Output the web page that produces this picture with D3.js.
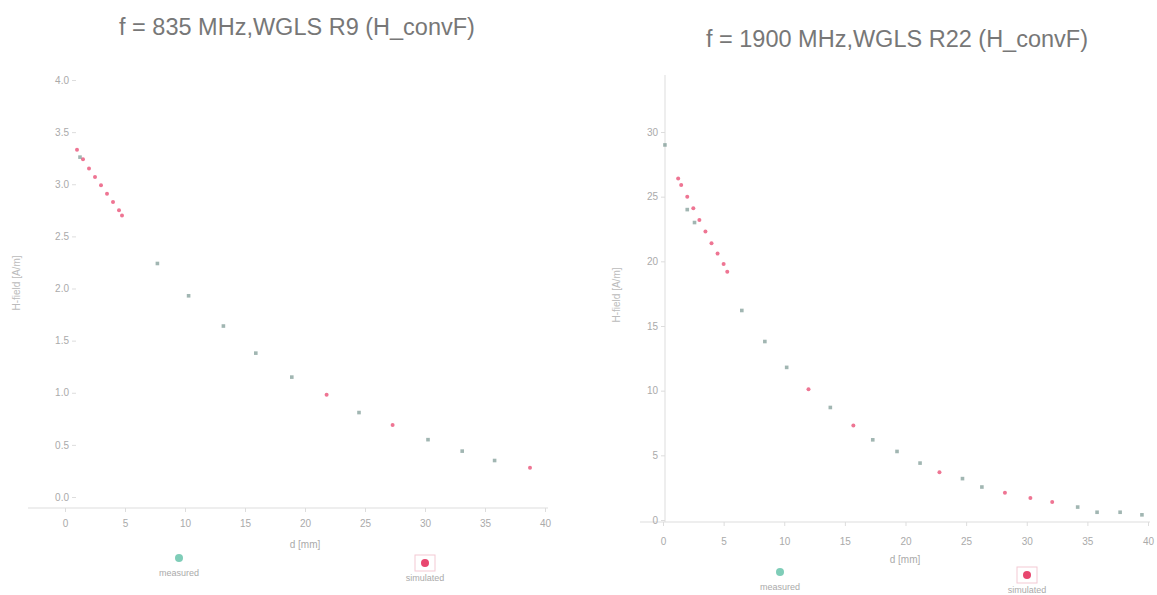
<!DOCTYPE html>
<html>
<head>
<meta charset="utf-8">
<script src="https://cdn.jsdelivr.net/npm/d3@7"></script>
<style>
  body { margin: 0; background: #fff; }
  svg { display: block; font-family: "Liberation Sans", Arial, sans-serif; }
  .tick text { fill: #aaa; font-size: 10px; }
  .tick line { stroke: #ddd; }
  .domain { stroke: #ddd; }
</style>
</head>
<body>
<svg id="chart" width="1157" height="595"></svg>
<script>
// x ticks, d in mm
const xTicks = [0, 5, 10, 15, 20, 25, 30, 35, 40];

// f = 835 MHz
const leftYTicks = [0, 0.5, 1, 1.5, 2, 2.5, 3, 3.5, 4];
const leftMeasX = [1.25, 7.7, 10.3, 13.2, 15.9, 18.9, 24.5, 30.25, 33.1, 35.8];
const leftMeasY = [3.26, 2.24, 1.93, 1.64, 1.38, 1.15, 0.81, 0.55, 0.44, 0.35];
const leftSimX = [1.0, 1.5, 2.0, 2.5, 3.0, 3.5, 4.0, 4.5, 4.75, 21.8, 27.3, 38.75];
const leftSimY = [3.33, 3.24, 3.15, 3.07, 2.99, 2.91, 2.83, 2.75, 2.70, 0.98, 0.69, 0.28];

// f = 1900 MHz
const rightYTicks = [0, 5, 10, 15, 20, 25, 30];
const rightMeasX = [0.16, 2.0, 2.6, 6.5, 8.4, 10.2, 13.8, 17.3, 19.3, 21.2, 24.7, 26.3, 34.2, 35.8, 37.7, 39.5];
const rightMeasY = [29.0, 24.0, 23.0, 16.2, 13.8, 11.8, 8.7, 6.2, 5.3, 4.4, 3.2, 2.55, 1.0, 0.6, 0.6, 0.4];
const rightSimX = [1.25, 1.5, 2.0, 2.5, 3.0, 3.5, 4.0, 4.5, 5.0, 5.3, 12.0, 15.7, 22.8, 28.2, 30.3, 32.1];
const rightSimY = [26.4, 25.9, 25.0, 24.1, 23.2, 22.3, 21.4, 20.6, 19.8, 19.2, 10.1, 7.3, 3.7, 2.1, 1.7, 1.4];

const seriesNames = ["measured", "simulated"];
const titles = ["f = 835 MHz,WGLS R9 (H_convF)", "f = 1900 MHz,WGLS R22 (H_convF)"];

const svg = d3.select("#chart");
const measColor = "#6f8f89", simColor = "#e8476f";

function drawPanel(p) {
    var x = d3.scaleLinear().domain([0, 40]).range(p.xRange);
    var y = d3.scaleLinear().domain([0, p.yMax]).range(p.yRange);
    var g = svg.append("g");

    g.append("text")
        .attr("x", p.titleX).attr("y", p.titleY)
        .attr("text-anchor", "middle")
        .attr("fill", "#777").style("font-size", "23.5px")
        .text(p.title);

    // x axis
    var xa = g.append("g")
        .attr("transform", "translate(0," + p.xAxisY + ")")
        .call(d3.axisBottom(x).tickValues(xTicks).tickSize(4).tickPadding(p.xPad));
    xa.select(".domain").attr("d", "M" + p.xLine[0] + ",0H" + p.xLine[1]);

    // y axis
    var ya = g.append("g")
        .attr("transform", "translate(" + p.yAxisX + ",0)")
        .call(d3.axisLeft(y).tickValues(p.yTicks).tickSize(4).tickFormat(p.fmt));
    ya.select(".domain")
        .attr("d", "M0," + p.yLine[0] + "V" + p.yLine[1])
        .style("stroke", p.showY ? "#ddd" : "none");

    g.append("text")
        .attr("x", p.xLabel[0]).attr("y", p.xLabel[1])
        .attr("text-anchor", "middle").attr("fill", "#aaa").style("font-size", "10px")
        .text("d [mm]");
    g.append("text")
        .attr("transform", "translate(" + p.yLabel[0] + "," + p.yLabel[1] + ") rotate(-90)")
        .attr("text-anchor", "middle").attr("fill", "#bbb").style("font-size", "10px")
        .text("H-field [A/m]");

    // simulated
    var sim = p.simX.map((v, i) => [v, p.simY[i]]);
    g.selectAll(".sim").data(sim).enter().append("circle")
        .attr("cx", d => x(d[0])).attr("cy", d => y(d[1]))
        .attr("r", 2).attr("fill", simColor).attr("opacity", 0.75);

    // measured
    var meas = p.measX.map((v, i) => [v, p.measY[i]]);
    g.selectAll(".meas").data(meas).enter().append("rect")
        .attr("x", d => x(d[0]) - 1.8).attr("y", d => y(d[1]) - 1.8)
        .attr("width", 3.6).attr("height", 3.6)
        .attr("fill", measColor).attr("opacity", 0.65);

    // legend
    g.append("circle").attr("cx", p.leg[0][0]).attr("cy", p.leg[0][1]).attr("r", 4)
        .attr("fill", "#5fc1a6").attr("opacity", 0.8);
    g.append("rect").attr("x", p.leg[1][0] - 10).attr("y", p.leg[1][1] - 8)
        .attr("width", 20).attr("height", 16).attr("fill", "none").attr("stroke", "#f3c9d3");
    g.append("circle").attr("cx", p.leg[1][0]).attr("cy", p.leg[1][1]).attr("r", 4)
        .attr("fill", simColor);
    seriesNames.forEach((s, i) => {
        g.append("text")
            .attr("x", p.leg[i][0]).attr("y", p.leg[i][1] + 18)
            .attr("text-anchor", "middle").attr("fill", "#aaa").style("font-size", "9px")
            .text(s);
    });
}

drawPanel({
    title: titles[0], titleX: 297, titleY: 35,
    xRange: [65, 545], yMax: 4, yRange: [497, 80],
    xAxisY: 508, xLine: [28, 548], xPad: 8,
    yAxisX: 76, yLine: [70, 508], showY: false,
    yTicks: leftYTicks, fmt: d3.format(".1f"),
    xLabel: [305, 548], yLabel: [20, 283],
    measX: leftMeasX, measY: leftMeasY, simX: leftSimX, simY: leftSimY,
    leg: [[179, 558], [425, 563]]
});

drawPanel({
    title: titles[1], titleX: 897, titleY: 47,
    xRange: [663, 1148], yMax: 30, yRange: [520, 132],
    xAxisY: 522, xLine: [640, 1150], xPad: 12,
    yAxisX: 665, yLine: [75, 522], showY: true,
    yTicks: rightYTicks, fmt: d3.format("d"),
    xLabel: [905, 563], yLabel: [620, 295],
    measX: rightMeasX, measY: rightMeasY, simX: rightSimX, simY: rightSimY,
    leg: [[780, 572], [1027, 575]]
});
</script>
</body>
</html>
